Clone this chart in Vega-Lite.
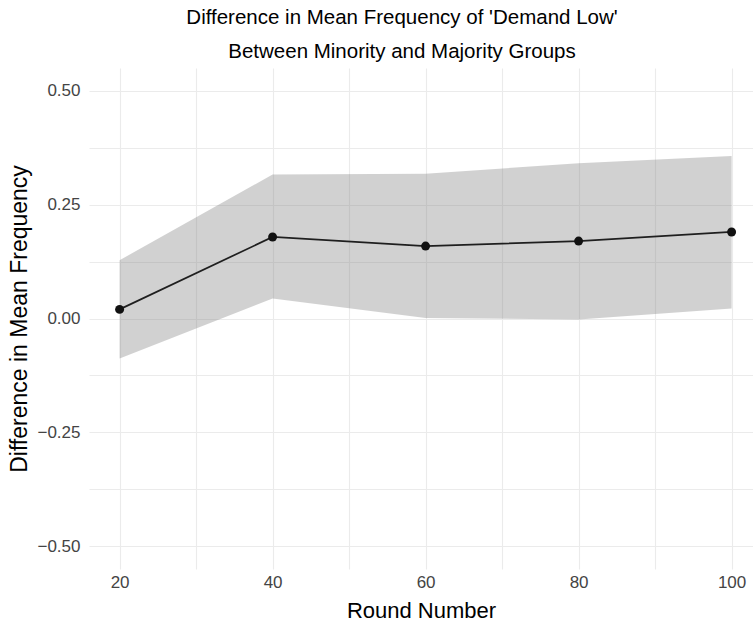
{
  "$schema": "https://vega.github.io/schema/vega-lite/v6.json",
  "autosize": {"type": "none"},
  "padding": {"left": 89, "top": 68, "right": 0, "bottom": 55},
  "width": 664,
  "height": 501,
  "background": "white",
  "config": {
    "view": {"stroke": null},
    "font": "Liberation Sans",
    "axis": {
      "domain": false,
      "ticks": false,
      "gridColor": "#EBEBEB",
      "gridWidth": 1.1,
      "labelFont": "Liberation Sans",
      "titleFont": "Liberation Sans",
      "labelFontSize": 17,
      "labelColor": "#444444",
      "titleFontSize": 22,
      "titleFontWeight": "normal",
      "titleColor": "#000000"
    }
  },
  "title": {
    "text": ["Difference in Mean Frequency of 'Demand Low'", "Between Minority and Majority Groups"],
    "font": "Liberation Sans",
    "fontSize": 20.5,
    "fontWeight": "normal",
    "color": "#000000",
    "anchor": "middle",
    "frame": "group",
    "lineHeight": 34,
    "offset": 10,
    "dx": -19,
    "dy": 4
  },
  "data": {
    "values": [
      {"round": 20, "diff": 0.02, "lower": -0.088, "upper": 0.128},
      {"round": 40, "diff": 0.179, "lower": 0.044, "upper": 0.316},
      {"round": 60, "diff": 0.159, "lower": 0.001, "upper": 0.318},
      {"round": 80, "diff": 0.170, "lower": -0.002, "upper": 0.341},
      {"round": 100, "diff": 0.190, "lower": 0.022, "upper": 0.357}
    ]
  },
  "encoding": {
    "x": {
      "field": "round",
      "type": "quantitative",
      "scale": {"domain": [16, 102.8], "nice": false, "zero": false},
      "axis": {
        "title": "Round Number",
        "values": [20, 30, 40, 50, 60, 70, 80, 90, 100],
        "labelExpr": "datum.value % 20 == 0 ? datum.label : ''",
        "labelPadding": 5,
        "titlePadding": 10
      }
    }
  },
  "layer": [
    {
      "mark": {"type": "area", "color": "#7F7F7F", "opacity": 0.36},
      "encoding": {
        "y": {
          "field": "lower",
          "type": "quantitative",
          "scale": {"domain": [-0.55, 0.55], "nice": false, "zero": false},
          "axis": {
            "title": "Difference in Mean Frequency",
            "titleFontSize": 23,
            "values": [-0.5, -0.375, -0.25, -0.125, 0, 0.125, 0.25, 0.375, 0.5],
            "labelExpr": "abs(datum.value * 4 - round(datum.value * 4)) < 0.001 ? format(datum.value, '.2f') : ''",
            "labelPadding": 9,
            "titlePadding": 5
          }
        },
        "y2": {"field": "upper"}
      }
    },
    {
      "mark": {"type": "line", "color": "#1F1F1F", "strokeWidth": 1.7},
      "encoding": {"y": {"field": "diff", "type": "quantitative"}}
    },
    {
      "mark": {"type": "point", "filled": true, "color": "#111111", "size": 80, "opacity": 1},
      "encoding": {"y": {"field": "diff", "type": "quantitative"}}
    }
  ]
}
